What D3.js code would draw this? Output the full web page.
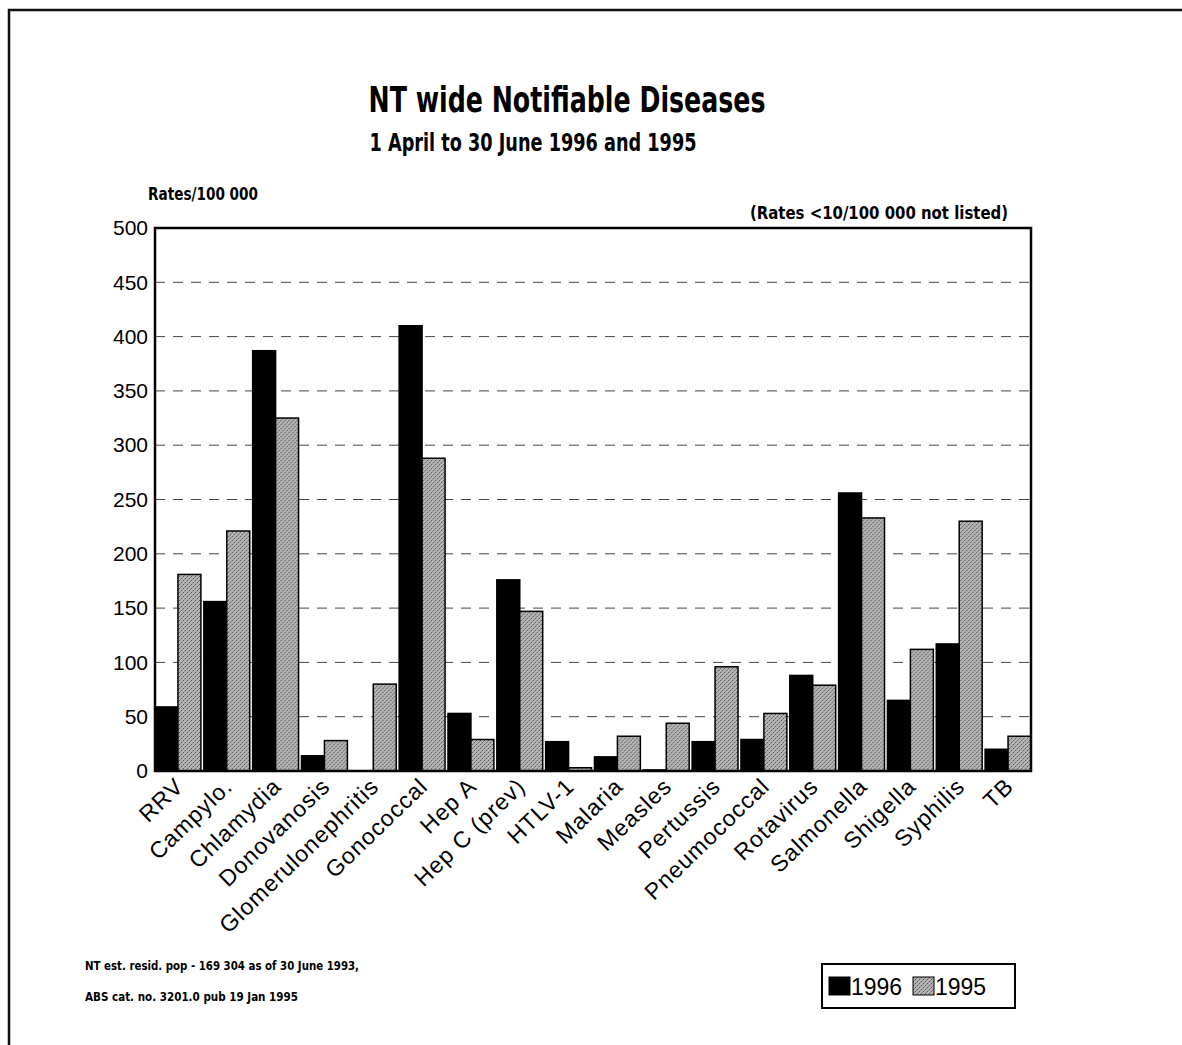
<!DOCTYPE html>
<html>
<head>
<meta charset="utf-8">
<script src="https://cdn.jsdelivr.net/npm/d3@7"></script>
<style>
  body { margin: 0; background: #fff; }
  .narrow { font-family: "Liberation Sans Narrow", "DejaVu Sans Condensed", "Arial Narrow", sans-serif; font-weight: bold; }
  .axisText { font-family: "Liberation Sans", Arial, sans-serif; font-size: 20px; }
</style>
</head>
<body>
<div id="chart"></div>
<script>
// data
var diseases = ["RRV", "Campylo.", "Chlamydia", "Donovanosis", "Glomerulonephritis", "Gonococcal",
  "Hep A", "Hep C (prev)", "HTLV-1", "Malaria", "Measles", "Pertussis", "Pneumococcal",
  "Rotavirus", "Salmonella", "Shigella", "Syphilis", "TB"];
var rates1996 = [59, 156, 387, 14, 0, 410, 53, 176, 27, 13, 1, 27, 29, 88, 256, 65, 117, 20];
var rates1995 = [181, 221, 325, 28, 80, 288, 29, 147, 3, 32, 44, 96, 53, 79, 233, 112, 230, 32];
var years = ["1996", "1995"];
var yTicks = [0, 50, 100, 150, 200, 250, 300, 350, 400, 450, 500];

var svgWidth = 1182;
var svgHeight = 1045;
var margin = { top: 228, right: 151, bottom: 274, left: 155 };
var width = svgWidth - margin.left - margin.right;
var height = svgHeight - margin.top - margin.bottom;

var svg = d3.select("#chart")
  .append("svg")
  .attr("width", svgWidth)
  .attr("height", svgHeight);

// stipple texture for the grey bars
var pat = svg.append("defs").append("pattern")
  .attr("id", "stipple")
  .attr("width", 4).attr("height", 4)
  .attr("patternUnits", "userSpaceOnUse");
pat.append("rect").attr("width", 4).attr("height", 4).attr("fill", "#b4b4b4");
pat.append("rect").attr("x", 0).attr("y", 0).attr("width", 1).attr("height", 1).attr("fill", "#555");
pat.append("rect").attr("x", 2).attr("y", 2).attr("width", 1).attr("height", 1).attr("fill", "#555");
pat.append("rect").attr("x", 1).attr("y", 3).attr("width", 1).attr("height", 1).attr("fill", "#888");
pat.append("rect").attr("x", 3).attr("y", 1).attr("width", 1).attr("height", 1).attr("fill", "#888");

// page frame (right and bottom edges fall outside the page)
svg.append("rect")
  .attr("x", 9).attr("y", 10)
  .attr("width", 1200).attr("height", 1100)
  .attr("fill", "none").attr("stroke", "#111").attr("stroke-width", 2.5);

// titles, squeezed to the narrow face of the original
function narrowText(x, y, size, len, anchor, str) {
  svg.append("text").attr("class", "narrow")
    .attr("x", x).attr("y", y)
    .attr("text-anchor", anchor)
    .style("font-size", size + "px")
    .attr("textLength", len)
    .attr("lengthAdjust", "spacingAndGlyphs")
    .text(str);
}
narrowText(567, 112, 36, 397, "middle", "NT wide Notifiable Diseases");
narrowText(533, 151, 25, 327, "middle", "1 April to 30 June 1996 and 1995");
narrowText(148, 200, 18, 110, "start", "Rates/100 000");
narrowText(1008, 219, 18, 258, "end", "(Rates <10/100 000 not listed)");

var chartGroup = svg.append("g")
  .attr("transform", `translate(${margin.left}, ${margin.top})`);

var xScale = d3.scaleBand()
  .domain(diseases)
  .range([0, width])
  .paddingInner(0.06)
  .paddingOuter(0.0);

var xSub = d3.scaleBand()
  .domain(years)
  .range([0, xScale.bandwidth()]);

var yScale = d3.scaleLinear()
  .domain([0, 500])
  .range([height, 0]);

// gridlines
chartGroup.append("g")
  .selectAll("line")
  .data(yTicks.filter(d => d > 0 && d < 500))
  .enter()
  .append("line")
  .attr("x1", 0).attr("x2", width)
  .attr("y1", d => yScale(d)).attr("y2", d => yScale(d))
  .attr("stroke", "#444").attr("stroke-width", 1)
  .attr("stroke-dasharray", "10,8");

// y axis labels
var leftAxis = d3.axisLeft(yScale).tickValues(yTicks).tickSize(0).tickPadding(7);
var yAx = chartGroup.append("g").call(leftAxis);
yAx.select(".domain").remove();
yAx.selectAll("text").attr("class", "axisText").style("font-size", "21px").attr("fill", "#000");

// bars
var rows = diseases.map((d, i) => ({ name: d, vals: [rates1996[i], rates1995[i]] }));
var groups = chartGroup.selectAll(".grp")
  .data(rows)
  .enter()
  .append("g")
  .attr("transform", d => `translate(${xScale(d.name)},0)`);

groups.selectAll("rect")
  .data(d => d.vals.map((v, j) => ({ year: years[j], value: v })))
  .enter()
  .append("rect")
  .attr("x", d => xSub(d.year))
  .attr("y", d => yScale(d.value))
  .attr("width", xSub.bandwidth())
  .attr("height", d => height - yScale(d.value))
  .attr("fill", d => d.year === "1996" ? "#000" : "url(#stipple)")
  .attr("stroke", "#000")
  .attr("stroke-width", 1.5);

// plot frame
chartGroup.append("rect")
  .attr("width", width).attr("height", height)
  .attr("fill", "none").attr("stroke", "#000").attr("stroke-width", 2.5);

// x labels
chartGroup.append("g")
  .selectAll("text")
  .data(diseases)
  .enter()
  .append("text")
  .attr("class", "axisText")
  .style("font-size", "23px")
  .style("letter-spacing", "1px")
  .attr("text-anchor", "end")
  .attr("transform", d => `translate(${xScale(d) + xScale.bandwidth() / 2 + 7}, ${height + 17}) rotate(-44)`)
  .text(d => d);

// footnote
narrowText(85, 970, 13, 274, "start", "NT est. resid. pop - 169 304 as of 30 June 1993,");
narrowText(85, 1001, 13, 213, "start", "ABS cat. no. 3201.0 pub 19 Jan 1995");

// legend
var legend = svg.append("g").attr("transform", "translate(822, 964)");
legend.append("rect")
  .attr("width", 193).attr("height", 44)
  .attr("fill", "#fff").attr("stroke", "#000").attr("stroke-width", 2);
var legendItems = legend.selectAll(".item")
  .data(years)
  .enter()
  .append("g")
  .attr("transform", (d, i) => `translate(${7 + i * 84}, 13)`);
legendItems.append("rect")
  .attr("width", 21).attr("height", 18)
  .attr("fill", d => d === "1996" ? "#000" : "url(#stipple)")
  .attr("stroke", "#000").attr("stroke-width", 1);
legendItems.append("text")
  .attr("class", "axisText")
  .attr("x", 22).attr("y", 18)
  .style("font-size", "23px")
  .text(d => d);
</script>
</body>
</html>
